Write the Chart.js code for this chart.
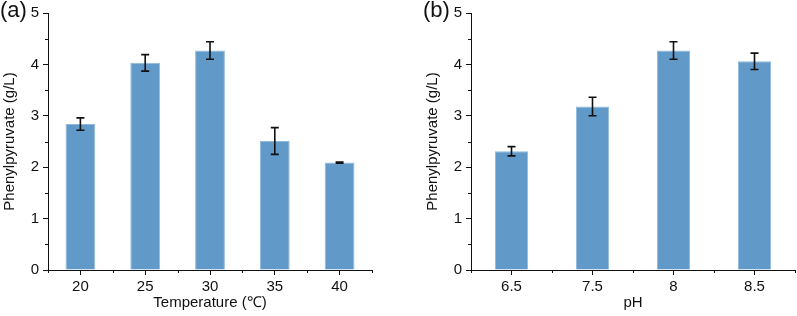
<!DOCTYPE html>
<html>
<head>
<meta charset="utf-8">
<script src="https://cdn.jsdelivr.net/npm/chart.js@4.4.1/dist/chart.umd.min.js"></script>
<style>
    body { margin: 0; background: #fff; }
    #wrap { position: relative; width: 797px; height: 316px; overflow: hidden; }
    .box { position: absolute; top: 0; height: 316px; }
    .tag { position: absolute; top: -3px; font: 22px "Liberation Sans", Arial, sans-serif; color: #111; }
</style>
</head>
<body>
<div id="wrap">
    <div class="box" style="left:0; width:380px;"><canvas id="chartA"></canvas></div>
    <div class="box" style="left:423px; width:374px;"><canvas id="chartB"></canvas></div>
    <span class="tag" style="left:0;">(a)</span>
    <span class="tag" style="left:423px;">(b)</span>
</div>
<script>
// (a) 온도별 데이터
const tempLabels = ['20', '25', '30', '35', '40'];
const tempMeans = [2.84, 4.03, 4.27, 2.51, 2.09];
const tempErrors = [0.12, 0.16, 0.17, 0.26, 0.01];

// (b) pH별 데이터
const phLabels = ['6.5', '7.5', '8', '8.5'];
const phMeans = [2.31, 3.18, 4.27, 4.06];
const phErrors = [0.09, 0.18, 0.17, 0.16];

const yTicks = [0, 1, 2, 3, 4, 5];

const FONT = '"Liberation Sans", Arial, sans-serif';

// 오차 막대 + 보조 눈금 그리기
const errorBarPlugin = {
    id: 'errorBars',
    afterDatasetsDraw(chart, args, opts) {
        const ctx = chart.ctx;
        const x = chart.scales.x;
        const y = chart.scales.y;
        const meta = chart.getDatasetMeta(0);
        ctx.save();
        ctx.strokeStyle = '#111';
        ctx.lineWidth = 1.6;
        opts.errors.forEach((err, i) => {
            const v = chart.data.datasets[0].data[i];
            const px = meta.data[i].x;
            const top = y.getPixelForValue(v + err);
            const bot = y.getPixelForValue(v - err);
            ctx.beginPath();
            ctx.moveTo(px, top); ctx.lineTo(px, bot);
            ctx.moveTo(px - 4, top); ctx.lineTo(px + 4, top);
            ctx.moveTo(px - 4, bot); ctx.lineTo(px + 4, bot);
            ctx.stroke();
        });
        // 보조 눈금 (y: 0.5 간격, x: 카테고리 경계)
        ctx.lineWidth = 1;
        ctx.beginPath();
        for (let k = 0; k < yTicks.length - 1; k++) {
            const py = Math.round(y.getPixelForValue(yTicks[k] + 0.5)) + 0.5;
            ctx.moveTo(y.right - 3, py); ctx.lineTo(y.right, py);
        }
        const n = chart.data.labels.length;
        for (let k = 0; k <= n; k++) {
            const px = Math.round(x.getPixelForValue(k - 0.5)) + 0.5;
            ctx.moveTo(px, x.top); ctx.lineTo(px, x.top + 3);
        }
        ctx.stroke();
        ctx.restore();
    }
};

function makeChart(id, labels, means, errors, title, barPct) {
    const ctx = document.getElementById(id).getContext('2d');
    return new Chart(ctx, {
        type: 'bar',
        data: {
            labels: labels,
            datasets: [{
                data: means,
                backgroundColor: '#6199c8',
                borderColor: '#8fb9dc',
                borderWidth: 1,
                barPercentage: barPct,
                categoryPercentage: 1
            }]
        },
        options: {
            responsive: true,
            maintainAspectRatio: false,
            animation: false,
            layout: { padding: { top: 8, right: id === 'chartA' ? 8 : 2, left: 0, bottom: 0 } },
            plugins: {
                legend: { display: false },
                tooltip: { enabled: false },
                errorBars: { errors: errors }
            },
            scales: {
                x: {
                    grid: { display: true, drawOnChartArea: false, offset: false, tickLength: 5, tickColor: '#111' },
                    border: { display: true, color: '#111', width: 1 },
                    ticks: { color: '#111', padding: 3, font: { family: FONT, size: 15 } },
                    title: { display: true, text: title, color: '#111', font: { family: FONT, size: 15 }, padding: { top: 2, bottom: 4 } },
                    afterFit: s => { s.height = 46; }
                },
                y: {
                    min: 0,
                    max: 5,
                    afterBuildTicks: s => { s.ticks = yTicks.map(v => ({ value: v })); },
                    grid: { display: true, drawOnChartArea: false, tickLength: 5, tickColor: '#111' },
                    border: { display: true, color: '#111', width: 1 },
                    ticks: { color: '#111', padding: 4, font: { family: FONT, size: 15 } },
                    title: { display: true, text: 'Phenylpyruvate (g/L)', color: '#111', font: { family: FONT, size: 15 }, padding: { top: 1, bottom: 2 } },
                    afterFit: s => { s.width = 48; }
                }
            }
        },
        plugins: [errorBarPlugin]
    });
}

makeChart('chartA', tempLabels, tempMeans, tempErrors, 'Temperature (\u2103)', 0.46);
makeChart('chartB', phLabels, phMeans, phErrors, 'pH', 0.41);
</script>
</body>
</html>
